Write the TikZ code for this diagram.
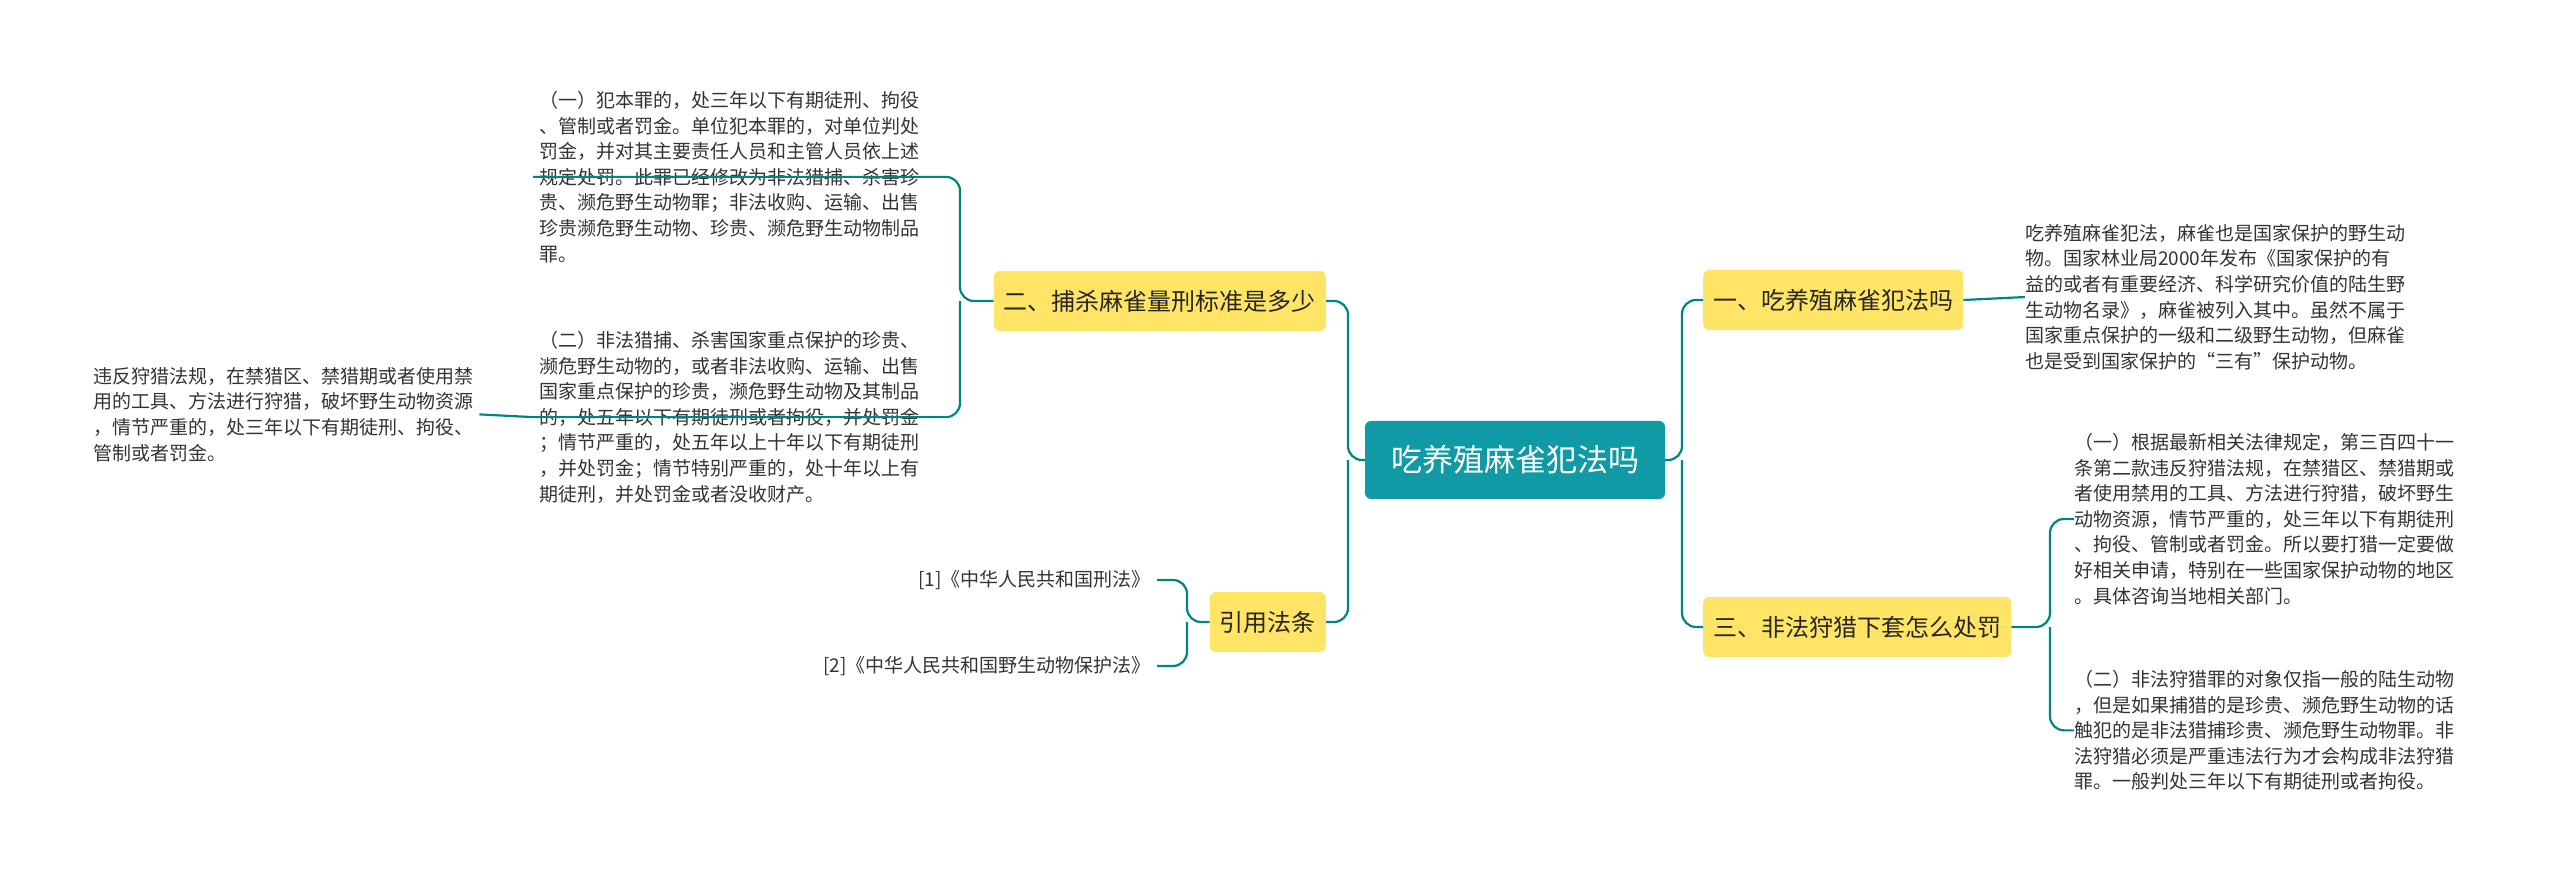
\documentclass[tikz,border=0pt]{standalone}
\usepackage{fontspec}
\setmainfont{Noto Sans CJK SC}
\begin{document}
\begin{tikzpicture}[x=1pt,y=-1pt,
  conn/.style={draw=teal!70!cyan!80!black,line width=2.2pt,rounded corners=14pt},
  branch/.style={fill=yellow!60!orange!40!yellow,fill=brYel,rounded corners=6pt,inner xsep=10pt,minimum height=60pt,font=\fontsize{24}{28}\selectfont,text=black!85},
  txt/.style={align=left,anchor=north west,inner sep=0pt,font=\fontsize{19}{25.6}\selectfont,text=black!80}]
\definecolor{brYel}{HTML}{FFE466}
\definecolor{cen}{HTML}{0F9AA6}
\useasboundingbox (0,0) rectangle (2560,890);
\node[fill=cen,rounded corners=6pt,text=white,font=\fontsize{31}{36}\selectfont,minimum width=300pt,minimum height=78pt] (c) at (1515,460) {吃养殖麻雀犯法吗};
\node[branch,anchor=west] (b1) at (1703,300) {一、吃养殖麻雀犯法吗};
\node[branch,anchor=west] (b3) at (1703,627) {三、非法狩猎下套怎么处罚};
\node[branch,anchor=east] (b2) at (1326,301) {二、捕杀麻雀量刑标准是多少};
\node[branch,anchor=east] (b4) at (1326,622) {引用法条};
\node[txt] (t1) at (2025,224) {吃养殖麻雀犯法，麻雀也是国家保护的野生动\\物。国家林业局2000年发布《国家保护的有\\益的或者有重要经济、科学研究价值的陆生野\\生动物名录》，麻雀被列入其中。虽然不属于\\国家重点保护的一级和二级野生动物，但麻雀\\也是受到国家保护的“三有”保护动物。};
\node[txt] (t3a) at (2074,433) {（一）根据最新相关法律规定，第三百四十一\\条第二款违反狩猎法规，在禁猎区、禁猎期或\\者使用禁用的工具、方法进行狩猎，破坏野生\\动物资源，情节严重的，处三年以下有期徒刑\\、拘役、管制或者罚金。所以要打猎一定要做\\好相关申请，特别在一些国家保护动物的地区\\。具体咨询当地相关部门。};
\node[txt] (t3b) at (2074,670) {（二）非法狩猎罪的对象仅指一般的陆生动物\\，但是如果捕猎的是珍贵、濒危野生动物的话\\触犯的是非法猎捕珍贵、濒危野生动物罪。非\\法狩猎必须是严重违法行为才会构成非法狩猎\\罪。一般判处三年以下有期徒刑或者拘役。};
\node[txt] (t2a) at (539,91) {（一）犯本罪的，处三年以下有期徒刑、拘役\\、管制或者罚金。单位犯本罪的，对单位判处\\罚金，并对其主要责任人员和主管人员依上述\\规定处罚。此罪已经修改为非法猎捕、杀害珍\\贵、濒危野生动物罪；非法收购、运输、出售\\珍贵濒危野生动物、珍贵、濒危野生动物制品\\罪。};
\node[txt] (t2b) at (539,331) {（二）非法猎捕、杀害国家重点保护的珍贵、\\濒危野生动物的，或者非法收购、运输、出售\\国家重点保护的珍贵，濒危野生动物及其制品\\的，处五年以下有期徒刑或者拘役，并处罚金\\；情节严重的，处五年以上十年以下有期徒刑\\，并处罚金；情节特别严重的，处十年以上有\\期徒刑，并处罚金或者没收财产。};
\node[txt] (t5) at (93,367) {违反狩猎法规，在禁猎区、禁猎期或者使用禁\\用的工具、方法进行狩猎，破坏野生动物资源\\，情节严重的，处三年以下有期徒刑、拘役、\\管制或者罚金。};
\node[txt,anchor=east] (r1) at (1151,580) {[1]《中华人民共和国刑法》};
\node[txt,anchor=east] (r2) at (1151,666) {[2]《中华人民共和国野生动物保护法》};
\coordinate (jr) at (1682,460);
\coordinate (jl) at (1348,460);
\draw[conn] (c.east) -- (jr) |- (b1.west);
\draw[conn] (jr) |- (b3.west);
\draw[conn] (c.west) -- (jl) |- (b2.east);
\draw[conn] (jl) |- (b4.east);
\draw[conn] (b1.east) -- (t1.west);
\draw[conn] (b3.east) -- (2050,627) |- (t3a.west);
\draw[conn] (2050,627) |- (t3b.west);
\draw[conn] (b2.west) -- (960,301) |- ([xshift=-6pt]t2a.west);
\draw[conn] (960,301) |- ([xshift=-6pt]t2b.west);
\draw[conn] ([xshift=-6pt]t2b.west) -- ([xshift=6pt]t5.east);
\draw[conn] (b4.west) -- (1187,622) |- ([xshift=6pt]r1.east);
\draw[conn] (1187,622) |- ([xshift=6pt]r2.east);
\end{tikzpicture}
\end{document}
